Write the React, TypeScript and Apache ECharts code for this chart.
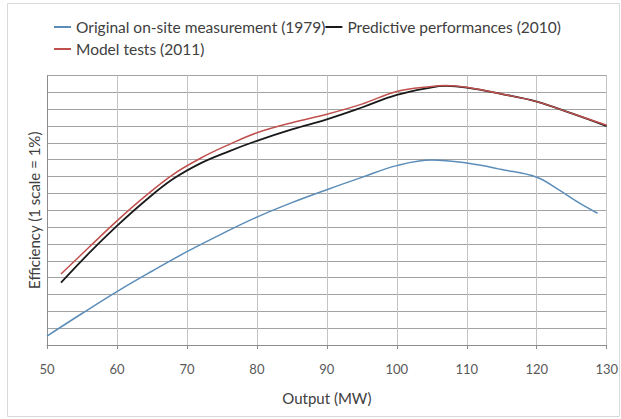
import React, { useEffect, useRef } from "react";
import * as echarts from "echarts";

const seriesNames = [
  "Original on-site measurement (1979)",
  "Predictive performances (2010)",
  "Model tests (2011)",
];

const originalOutput = [50, 55, 60, 65, 70, 75, 80, 85, 90, 95, 100, 105, 110, 115, 120, 123, 126, 128.7];
const originalEff = [0.53, 1.87, 3.17, 4.38, 5.54, 6.6, 7.59, 8.45, 9.22, 9.95, 10.65, 10.98, 10.8, 10.42, 9.96, 9.25, 8.45, 7.82];

const predictiveOutput = [52, 56, 60, 64, 68, 72, 76, 80, 85, 90, 95, 100, 105, 107, 110, 115, 120, 125, 130];
const predictiveEff = [3.7, 5.45, 7.07, 8.55, 9.85, 10.8, 11.5, 12.12, 12.8, 13.4, 14.1, 14.85, 15.3, 15.38, 15.28, 14.9, 14.45, 13.75, 13.0];

const modelOutput = [52, 56, 60, 64, 68, 72, 76, 80, 85, 90, 95, 100, 105, 107, 110, 115, 120, 125, 130];
const modelEff = [4.22, 5.8, 7.37, 8.82, 10.12, 11.1, 11.9, 12.6, 13.2, 13.7, 14.3, 15.05, 15.35, 15.4, 15.3, 14.9, 14.45, 13.75, 13.05];

const colors = ["#5b8db8", "#1a1a1a", "#c0504d"];

const zip = (xs: number[], ys: number[]) => xs.map((x, i) => [x, ys[i]]);

export default function App() {
  const ref = useRef<HTMLDivElement>(null);
  useEffect(() => {
    if (!ref.current) return;
    const chart = echarts.init(ref.current, null, { renderer: "svg" });
    const font = "Lato";
    chart.setOption({
      animation: false,
      backgroundColor: "#ffffff",
      graphic: [
        {
          type: "rect",
          shape: { x: 7.5, y: 3.5, width: 612, height: 413 },
          style: { fill: "none", stroke: "#d9d9d9", lineWidth: 1 },
          silent: true,
        },
      ],
      legend: [
        {
          data: [seriesNames[0], seriesNames[1]],
          left: 49,
          top: 14,
          orient: "horizontal",
          icon: "rect",
          itemWidth: 17,
          itemHeight: 2,
          itemGap: 0,
          textStyle: { fontFamily: font, fontSize: 15.5, color: "#404040" },
        },
        {
          data: [seriesNames[2]],
          left: 49,
          top: 36,
          icon: "rect",
          itemWidth: 17,
          itemHeight: 2,
          textStyle: { fontFamily: font, fontSize: 15.5, color: "#404040" },
        },
      ],
      grid: { left: 47, right: 12.5, top: 75.5, bottom: 74, containLabel: false },
      xAxis: {
        type: "value",
        min: 50,
        max: 130,
        interval: 10,
        name: "Output (MW)",
        nameLocation: "middle",
        nameGap: 45,
        nameTextStyle: { fontFamily: font, fontSize: 15, color: "#404040" },
        axisLine: { show: true, onZero: false, lineStyle: { color: "#8c8c8c", width: 1 } },
        axisTick: { show: true, length: 4, lineStyle: { color: "#8c8c8c" } },
        axisLabel: { fontFamily: font, fontSize: 13, color: "#595959", margin: 17 },
        splitLine: { show: true, lineStyle: { color: "#c4c4c4", width: 1 } },
      },
      yAxis: {
        type: "value",
        min: 0,
        max: 16,
        interval: 1,
        name: "Efficiency (1 scale = 1%)",
        nameLocation: "middle",
        nameGap: 6,
        nameTextStyle: { fontFamily: font, fontSize: 15, color: "#404040" },
        axisLine: { show: true, lineStyle: { color: "#8c8c8c", width: 1 } },
        axisTick: { show: false },
        axisLabel: { show: false },
        splitLine: { show: true, lineStyle: { color: "#a3a3a3", width: 1 } },
      },
      series: [
        {
          name: seriesNames[0],
          type: "line",
          smooth: 0.4,
          showSymbol: false,
          symbol: "none",
          data: zip(originalOutput, originalEff),
          lineStyle: { color: colors[0], width: 1.5 },
          itemStyle: { color: colors[0] },
        },
        {
          name: seriesNames[1],
          type: "line",
          smooth: 0.4,
          showSymbol: false,
          symbol: "none",
          data: zip(predictiveOutput, predictiveEff),
          lineStyle: { color: colors[1], width: 1.8 },
          itemStyle: { color: colors[1] },
        },
        {
          name: seriesNames[2],
          type: "line",
          smooth: 0.4,
          showSymbol: false,
          symbol: "none",
          data: zip(modelOutput, modelEff),
          lineStyle: { color: colors[2], width: 1.5 },
          itemStyle: { color: colors[2] },
        },
      ],
    });
    return () => chart.dispose();
  }, []);
  return (
    <div
      ref={ref}
      style={{ position: "fixed", left: 0, top: 0, width: 621, height: 419 }}
    />
  );
}
